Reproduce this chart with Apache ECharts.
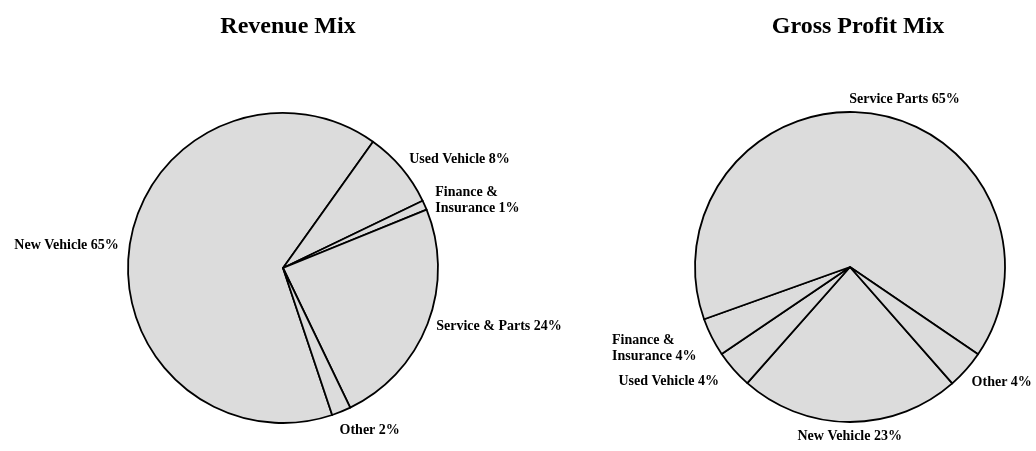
<!DOCTYPE html>
<html>
<head>
<meta charset="utf-8">
<script src="https://cdn.jsdelivr.net/npm/echarts@6/dist/echarts.min.js"></script>
<style>
  html, body { margin: 0; padding: 0; background: #fff; }
  #chart { width: 1036px; height: 451px; }
</style>
</head>
<body>
<div id="chart"></div>
<script>
// ---- data ----
const revenueTitle = 'Revenue Mix';
const profitTitle = 'Gross Profit Mix';
const revenueCategories = ['New Vehicle', 'Used Vehicle', 'Finance &\nInsurance', 'Service & Parts', 'Other'];
const revenueValues = [65, 8, 1, 24, 2];
const profitCategories = ['New Vehicle', 'Used Vehicle', 'Finance &\nInsurance', 'Service Parts', 'Other'];
const profitValues = [23, 4, 4, 65, 4];

// ---- layout / style config ----
const RADIUS = 155;
const leftPie = { cx: 283, cy: 268, start: -71.5,
  nudges: [[-5, 2], [3, 0], [5, 4], [3, -2], [-4, 6]] };
const rightPie = { cx: 850, cy: 267, start: -48.7,
  nudges: [[0, 0], [-10, 3], [-10, 1], [34, 0], [1, 3]] };
const FONT = '"Liberation Serif", "Times New Roman", serif';

function makeLabelLayout(values, cfg) {
  const total = values.reduce((a, b) => a + b, 0);
  return function (params) {
    const i = params.dataIndex;
    let before = 0;
    for (let k = 0; k < i; k++) before += values[k];
    const phi0 = 90 - cfg.start; // clockwise from north
    const mid = (phi0 + (before + values[i] / 2) / total * 360) * Math.PI / 180;
    const s = Math.sin(mid), c = Math.cos(mid);
    const ax = cfg.cx + (RADIUS + 6) * s;
    const ay = cfg.cy - (RADIUS + 6) * c;
    const w = params.labelRect.width, h = params.labelRect.height;
    let left;
    if (s > 0.25) left = ax;
    else if (s < -0.25) left = ax - w;
    else left = ax - w / 2;
    const top = ay - h / 2 - c * h / 2;
    const n = cfg.nudges[i] || [0, 0];
    return { x: left + n[0], y: top + n[1], align: 'left', verticalAlign: 'top' };
  };
}

function pieSeries(cats, vals, cfg) {
  return {
    type: 'pie',
    center: [cfg.cx, cfg.cy],
    radius: RADIUS,
    startAngle: cfg.start,
    clockwise: true,
    avoidLabelOverlap: false,
    silent: true,
    animation: false,
    itemStyle: { color: '#dcdcdc', borderColor: '#000', borderWidth: 1.8 },
    label: {
      show: true,
      position: 'outside',
      formatter: '{b} {c}%',
      fontFamily: FONT,
      fontWeight: 'bold',
      fontSize: 14,
      lineHeight: 16,
      color: '#000',
      align: 'left'
    },
    labelLine: { show: false },
    labelLayout: makeLabelLayout(vals, cfg),
    emphasis: { disabled: true },
    data: cats.map((c, i) => ({ name: c, value: vals[i] }))
  };
}

const chart = echarts.init(document.getElementById('chart'), null, { renderer: 'canvas' });
chart.setOption({
  backgroundColor: '#fff',
  animation: false,
  title: [
    { text: revenueTitle, left: 283, top: 10, textAlign: 'center',
      textStyle: { fontFamily: FONT, fontWeight: 'bold', fontSize: 24, color: '#000' } },
    { text: profitTitle, left: 853, top: 10, textAlign: 'center',
      textStyle: { fontFamily: FONT, fontWeight: 'bold', fontSize: 24, color: '#000' } }
  ],
  series: [
    pieSeries(revenueCategories, revenueValues, leftPie),
    pieSeries(profitCategories, profitValues, rightPie)
  ]
});
</script>
</body>
</html>
